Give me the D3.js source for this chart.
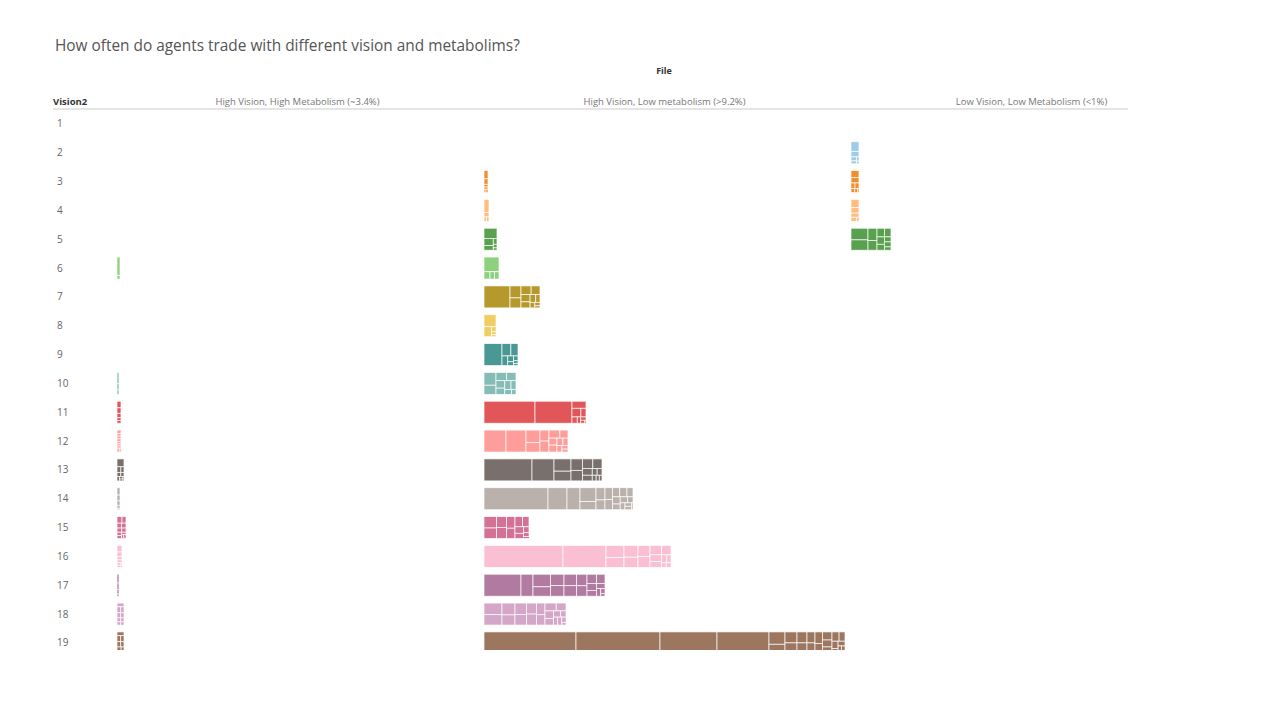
<!DOCTYPE html>
<html><head><meta charset="utf-8">
<script src="https://cdn.jsdelivr.net/npm/d3@7"></script>
<style>
body{margin:0;background:#fff;}
text{font-family:"Open Sans","Noto Sans",sans-serif;}
</style></head>
<body><svg id="c" width="1280" height="720"></svg>
<script>
const files = ["High Vision, High Metabolism (~3.4%)", "High Vision, Low metabolism (>9.2%)", "Low Vision, Low Metabolism (<1%)"];
const visions = d3.range(1, 20);
const colors = ["#4E79A7","#A0CBE8","#F28E2B","#FFBE7D","#59A14F","#8CD17D","#B6992D","#F1CE63","#499894","#86BCB6","#E15759","#FF9D9A","#79706E","#BAB0AC","#D37295","#FABFD2","#B07AA1","#D4A6C8","#9D7660"];

// trade counts per (vision, file): each array = sub-groups shown as treemap tiles
const highHigh = {
  6: [2.5, 0.5],
  10: [1, 0.6, 0.4],
  11: [1.2, 1, 0.8, 0.5, 0.5],
  12: [0.6, 0.5, 0.5, 0.5, 0.4, 0.4, 0.4, 0.3, 0.4],
  13: [2.5, 1, 0.8, 0.7, 0.6, 0.5, 0.4, 0.3, 0.2],
  14: [1, 0.8, 0.6, 0.4, 0.2],
  15: [1.5, 1.2, 1, 1, 0.9, 0.8, 0.7, 0.6, 0.5, 0.4, 0.4],
  16: [1.5, 1, 0.8, 0.6, 0.5, 0.4, 0.2],
  17: [0.8, 0.6, 0.4, 0.2],
  18: [1.2, 1, 0.9, 0.8, 0.8, 0.7, 0.6, 0.5, 0.5],
  19: [1.2, 1, 0.9, 0.9, 0.8, 0.7, 0.6, 0.5, 0.4]
};
const highLow = {
  3: [1.5, 1, 0.5, 0.4, 0.3, 0.3],
  4: [3, 1, 0.5, 0.5],
  5: [6, 3, 2, 1, 0.6, 0.4],
  6: [10, 2, 1.5, 1.5],
  7: [26, 6, 5, 4, 3.5, 3, 2.5, 2, 1.5, 1.2, 0.8, 0.5],
  8: [6.5, 3.5, 1, 0.6, 0.4],
  9: [18, 5, 4, 2.5, 1.5, 1, 1, 0.6, 0.4],
  10: [7, 5, 4, 3.5, 3, 2.5, 2.5, 2, 1.5, 1],
  11: [51, 37, 4.5, 3.5, 2, 1.5, 1, 0.8, 0.5, 0.2],
  12: [22, 20, 8, 6, 4.5, 4.5, 4, 3, 2.5, 2.5, 2, 1.7, 1.5, 1, 0.8],
  13: [48, 22, 9.5, 7.5, 6, 5.5, 4.5, 4, 3, 2.5, 1.5, 1.5, 1, 0.8, 0.7],
  14: [64, 19, 13, 10, 6, 5, 4, 4, 3.5, 3, 3, 2.5, 2.5, 2, 2, 1.5, 1.5, 1, 1, 0.5],
  15: [6.5, 6, 5, 5, 4.5, 4, 3.5, 3, 2.5, 2, 1.5, 1, 0.5],
  16: [79, 43, 10, 8, 7.5, 6.5, 6, 6, 5, 4, 3.5, 3, 2, 1.5, 1, 1],
  17: [37, 12, 10, 7.5, 7, 6.5, 6.5, 6, 5.5, 5, 4, 3.5, 3, 2.5, 2, 1.5, 1, 0.5],
  18: [9.5, 8.5, 7, 6, 6, 5.5, 5, 5, 4.5, 4, 4, 3.5, 3, 2.5, 2, 1.5, 1.5, 1.5, 1, 0.5],
  19: [92, 84, 57, 52, 9, 7, 6, 6, 5, 5, 4, 4, 4, 3.5, 3.5, 3, 3, 3, 2.5, 2, 1.5, 1.5, 1, 1, 0.5]
};
const lowLow = {
  2: [3.5, 2, 1, 0.7, 0.5, 0.3],
  3: [2.5, 2, 1, 1, 0.7, 0.5, 0.3],
  4: [3, 2, 1.5, 1, 0.5],
  5: [9, 8, 5, 4, 3, 2.5, 2.5, 2, 1.5, 1.5, 1]
};
const cellData = [highHigh, highLow, lowLow];

const svg = d3.select("#c");

svg.append("defs").append("clipPath").attr("id", "view")
  .append("rect").attr("x", 0).attr("y", 110).attr("width", 1280).attr("height", 540);

svg.append("text").attr("x", 55).attr("y", 51).attr("font-size", 15.4)
  .attr("fill", "#555").text("How often do agents trade with different vision and metabolims?");

const col = d3.scaleBand().domain(files).range([117, 1218]);
const row = d3.scaleBand().domain(visions).range([109.5, 657.3]).paddingInner(0.237).paddingOuter(0.118);
const x = d3.scaleLinear().domain([0, 367]).range([0, col.bandwidth()]);

svg.append("text").attr("x", 664).attr("y", 74).attr("text-anchor", "middle")
  .attr("font-size", 9).attr("font-weight", "bold").attr("fill", "#333").text("File");

svg.append("text").attr("x", 53).attr("y", 105).attr("font-size", 9.5)
  .attr("font-weight", "bold").attr("fill", "#333").text("Vision2");

files.forEach(f => {
  svg.append("text").attr("x", col(f) + col.bandwidth() / 2 - 3).attr("y", 105)
    .attr("text-anchor", "middle").attr("font-size", 9.5).attr("fill", "#777").text(f);
});

svg.append("line").attr("x1", 53).attr("x2", 1128).attr("y1", 109).attr("y2", 109)
  .attr("stroke", "#ddd").attr("stroke-width", 1.5);

visions.forEach(v => {
  svg.append("text").attr("x", 57).attr("y", row(v) + row.bandwidth() / 2 + 3.5)
    .attr("font-size", 10).attr("fill", "#666").text(v);
});

const marks = svg.append("g").attr("clip-path", "url(#view)");

files.forEach((f, fi) => {
  const data = cellData[fi];
  Object.keys(data).forEach(k => {
    const v = +k;
    const vals = data[k];
    const total = d3.sum(vals);
    const w = x(total), h = row.bandwidth();
    const root = d3.hierarchy({children: vals.map(d => ({value: d}))})
      .sum(d => d.value || 0).sort((a, b) => b.value - a.value);
    d3.treemap().size([w, h]).tile(d3.treemapSquarify.ratio(1))(root);
    const g = marks.append("g").attr("transform", `translate(${col(f)},${row(v)})`);
    g.selectAll("rect").data(root.leaves()).join("rect")
      .attr("x", d => d.x0).attr("y", d => d.y0)
      .attr("width", d => Math.max(0, d.x1 - d.x0)).attr("height", d => Math.max(0, d.y1 - d.y0))
      .attr("fill", colors[v - 1]).attr("stroke", "#fff").attr("stroke-width", 0.8)
      .attr("stroke-opacity", 0.85);
  });
});
</script></body></html>
